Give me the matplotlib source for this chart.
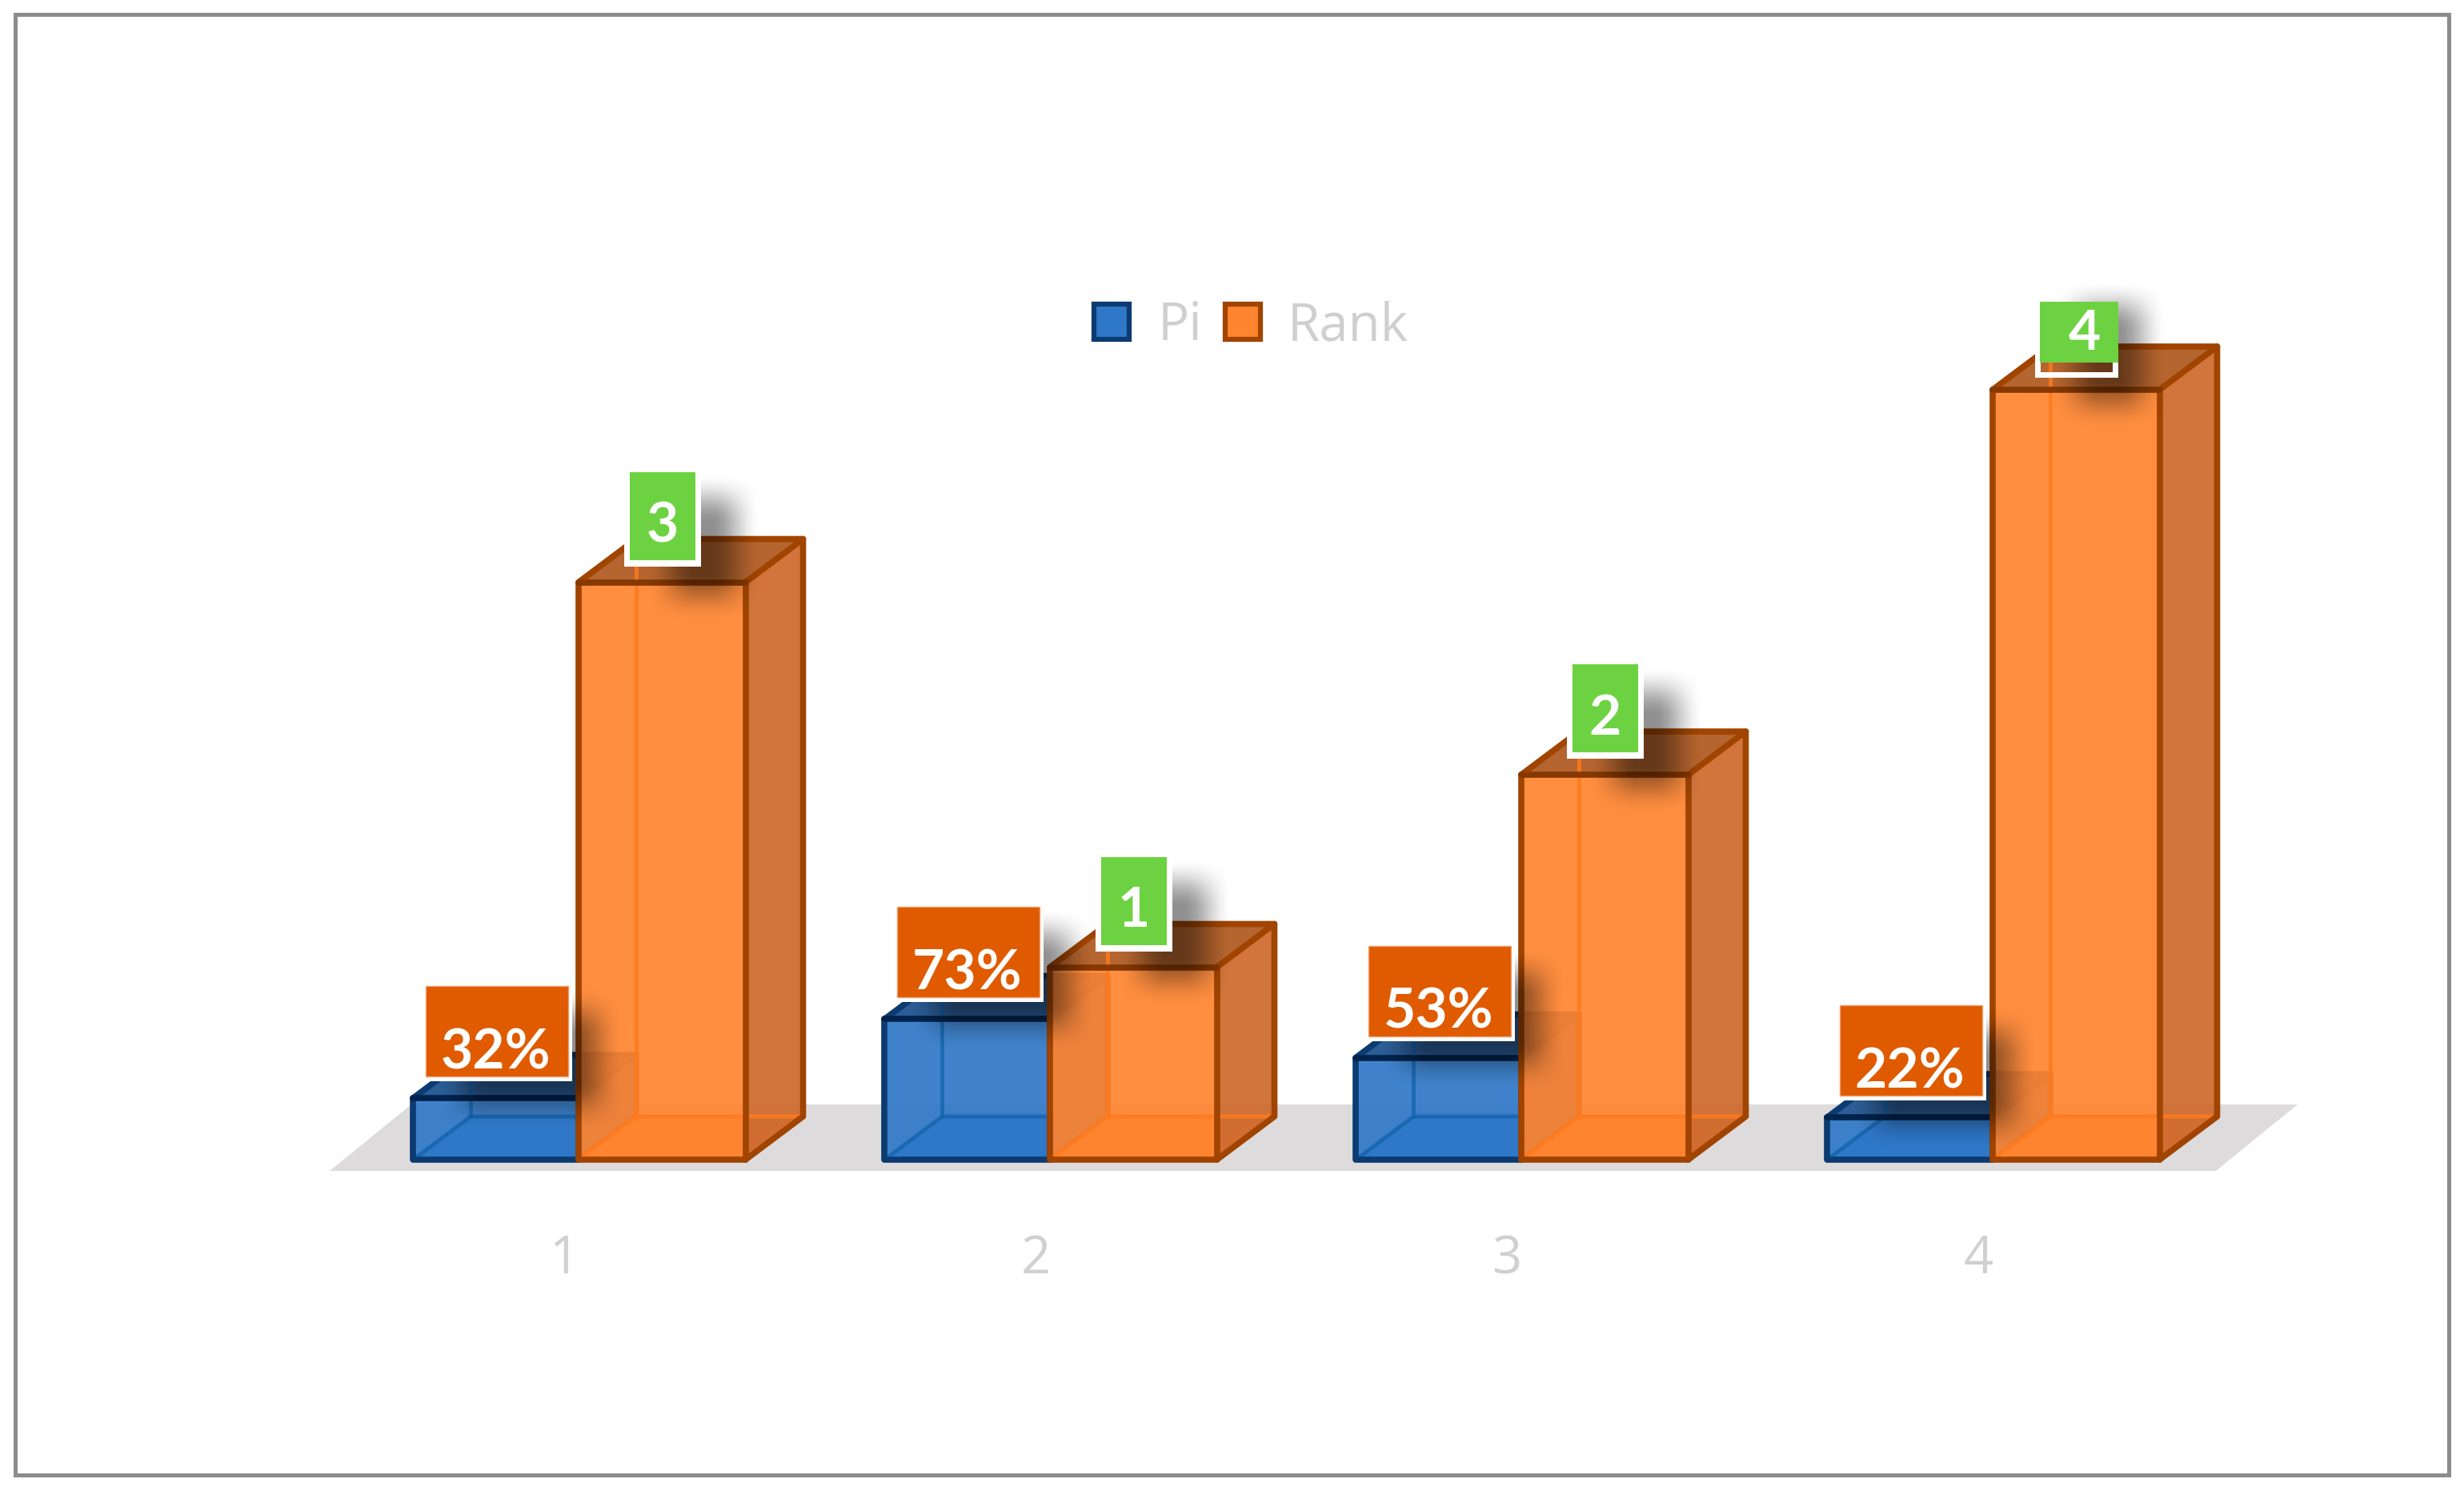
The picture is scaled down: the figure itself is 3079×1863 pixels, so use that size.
import numpy as np
import matplotlib
matplotlib.use('Agg')
import matplotlib.pyplot as plt
from matplotlib.patches import Polygon, Rectangle

categories = ['1', '2', '3', '4']
pi_values = [0.32, 0.73, 0.53, 0.22]
rank_values = [3, 1, 2, 4]
pi_labels = ['32%', '73%', '53%', '22%']
rank_labels = ['3', '1', '2', '4']
series_names = ['Pi', 'Rank']

WIDTH, HEIGHT = 3079, 1863
PX_PER_CAT = 589.0
PX_PER_UNIT = 240.5
BASE_PY = 1449
PI_W = 0.351
RANK_W = 0.354

ORANGE = dict(front='#ff8430', side='#cf6c30', top='#b5652f', edge='#a04400',
              inner='#ff7a1c', top_edge='#863800', inner_alpha=0.85)
BLUE = dict(front='#2f78c8', side='#2f6fb5', top='#2c5d96', edge='#0b3b70',
            inner='#0e60aa', top_edge='#00234d', inner_alpha=0.7)


def dx(px):
    return px / PX_PER_CAT


def dy(px):
    return px / PX_PER_UNIT


def xpos(px):
    return 1 + (px - 723) / PX_PER_CAT


def ypos(py):
    return (BASE_PY - py) / PX_PER_UNIT


def draw_bar(ax, x0, w, h, c, z):
    '''
    Draw one see-through box standing on the floor.
    '''
    x1 = x0 + w
    ox, oy = dx(72), dy(54)
    lw = 5.5
    ax.add_patch(Polygon([(x0, 0), (x1, 0), (x1 + ox, oy), (x0 + ox, oy)], fc=c['front'], ec='none', zorder=z))
    ax.add_patch(Polygon([(x1, 0), (x1 + ox, oy), (x1 + ox, h + oy), (x1, h)], fc=c['side'], ec='none', alpha=0.94, zorder=z))
    ax.add_patch(Polygon([(x0, h), (x1, h), (x1 + ox, h + oy), (x0 + ox, h + oy)], fc=c['top'], ec='none', zorder=z))
    ax.add_patch(Rectangle((x0, 0), w, h, fc=c['front'], ec='none', alpha=0.92, zorder=z + 0.1))
    # back edges, seen through the front
    ax.plot([x0, x0 + ox, x1 + ox], [0, oy, oy], color=c['inner'], lw=3.5, alpha=c['inner_alpha'], zorder=z + 0.2)
    ax.plot([x0 + ox, x0 + ox], [oy, h + oy], color=c['inner'], lw=3.5, alpha=c['inner_alpha'], zorder=z + 0.2)
    # outer edges
    for xs, ys in [([x0, x0, x1, x1], [h, 0, 0, h]),
                   ([x1, x1 + ox, x1 + ox, x0 + ox, x0], [0, oy, h + oy, h + oy, h]),
                   ([x1, x1 + ox], [h, h + oy])]:
        ax.plot(xs, ys, color=c['edge'], lw=lw, solid_joinstyle='round', solid_capstyle='round', zorder=z + 0.3)
    ax.plot([x0, x1], [h, h], color=c['top_edge'], lw=lw, solid_capstyle='round', zorder=z + 0.31)


def soft_shadow(ax, x0, x1, y0, y1, alpha=0.44, blur=32):
    '''
    Blurred dark rectangle, x and y given in pixels of the picture.
    '''
    xs = np.arange(x0 - blur, x1 + blur + 1)
    ys = np.arange(y0 - blur, y1 + blur + 1)
    ax_ = np.clip((xs - (x0 - blur)) / (2.0 * blur), 0, 1) * np.clip(((x1 + blur) - xs) / (2.0 * blur), 0, 1)
    ay_ = np.clip((ys - (y0 - blur)) / (2.0 * blur), 0, 1) * np.clip(((y1 + blur) - ys) / (2.0 * blur), 0, 1)
    ax_ = ax_ * ax_ * (3 - 2 * ax_)
    ay_ = ay_ * ay_ * (3 - 2 * ay_)
    rgba = np.zeros((len(ys), len(xs), 4))
    rgba[..., 3] = np.outer(ay_, ax_) * alpha
    ax.imshow(rgba, extent=(xpos(xs[0]), xpos(xs[-1]), ypos(ys[-1]), ypos(ys[0])),
              origin='upper', aspect='auto', interpolation='bilinear', zorder=4)


def draw_pi_label(ax, x_left, top, text):
    left_px = 723 + (x_left - 1) * PX_PER_CAT + 16
    bottom_py = BASE_PY - top * PX_PER_UNIT - 27
    w_px, h_px = 178, 113
    soft_shadow(ax, left_px + 45, left_px + w_px + 38, bottom_py - h_px + 32, bottom_py + 36)
    ax.add_patch(Rectangle((xpos(left_px), ypos(bottom_py + 6)), dx(w_px + 5), dy(h_px + 6), fc='white', ec='none', zorder=5))
    ax.add_patch(Rectangle((xpos(left_px), ypos(bottom_py)), dx(w_px), dy(h_px), fc='#e05a00', ec='#f0a070', lw=1, zorder=6))
    ax.text(xpos(left_px + w_px / 2 - 2), ypos(bottom_py - 10), text, color='white', family='Lato',
            weight='bold', fontsize=50, ha='center', va='baseline', zorder=7)


def draw_rank_label(ax, x_left, top, text, clipped):
    left_px = 723 + (x_left - 1) * PX_PER_CAT
    top_py = BASE_PY - top * PX_PER_UNIT
    if clipped:
        # this one is cut at the top and wider than the others, and its frame is hollow
        box = (left_px + 59, top_py - 110, 98, 76)
        num_x, num_y = left_px + 115, top_py - 50
        frame = (left_px + 56, top_py - 19, 97, 40)
        soft_shadow(ax, left_px + 104, left_px + 186, top_py - 106, top_py + 18)
        ax.add_patch(Rectangle((xpos(frame[0]), ypos(frame[1])), dx(frame[2]), dy(frame[3]),
                               fc='none', ec='white', lw=5, zorder=5))
    else:
        box = (left_px + 64, top_py - 138, 82, 110)
        num_x, num_y = left_px + 105, top_py - 50
        soft_shadow(ax, left_px + 115, left_px + 197, top_py - 105, top_py + 18)
        ax.add_patch(Rectangle((xpos(left_px + 57), ypos(top_py - 20)), dx(96), dy(118), fc='white', ec='none', zorder=5))
    ax.add_patch(Rectangle((xpos(box[0]), ypos(box[1] + box[3])), dx(box[2]), dy(box[3]), fc='#6dd242', ec='none', zorder=6))
    ax.text(xpos(num_x), ypos(num_y), text, color='white', family='Lato', weight='bold', fontsize=50,
            ha='center', va='baseline', zorder=7)


def main():
    fig = plt.figure(figsize=(WIDTH / 100, HEIGHT / 100), dpi=100, facecolor='white')
    ax = fig.add_axes([0, 0, 1, 1])
    ax.axis('off')

    # floor
    ax.add_patch(Polygon([(xpos(412), ypos(1463)), (xpos(2769), ypos(1463)),
                          (xpos(2871), ypos(1380)), (xpos(514), ypos(1380))],
                         fc='#dedbdc', ec='none', zorder=1))

    cats = np.arange(1, len(categories) + 1)
    for cat, pi, rank in zip(cats, pi_values, rank_values):
        draw_bar(ax, cat - PI_W, PI_W, pi, BLUE, 2)
        draw_bar(ax, cat, RANK_W, rank, ORANGE, 3)

    for i, cat in enumerate(cats):
        draw_pi_label(ax, cat - PI_W, pi_values[i], pi_labels[i])
        draw_rank_label(ax, cat, rank_values[i], rank_labels[i], rank_values[i] == max(rank_values))
        ax.text(cat - dx(18), ypos(1591), categories[i], color='#d0d0d0', family='Open Sans',
                fontsize=47, ha='center', va='baseline')

    # legend
    for c, left, label, text_px in [(BLUE, 1367, series_names[0], 1447), (ORANGE, 1531, series_names[1], 1609)]:
        ax.add_patch(Rectangle((xpos(left), ypos(424)), dx(44), dy(44), fc=c['front'], ec=c['edge'], lw=4.5, zorder=5))
        ax.text(xpos(text_px), ypos(425), label, color='#cfcfcf', family='Open Sans', fontsize=47,
                ha='left', va='baseline')

    # outer frame
    ax.add_patch(Rectangle((xpos(18.5), ypos(1842.5)), dx(3041), dy(1825), fc='none', ec='#8c8c8c', lw=3.6, zorder=8))

    ax.set_xlim(xpos(0), xpos(WIDTH))
    ax.set_ylim(ypos(HEIGHT), ypos(0))
    fig.savefig('out.png', dpi=100)


if __name__ == "__main__":
    main()
